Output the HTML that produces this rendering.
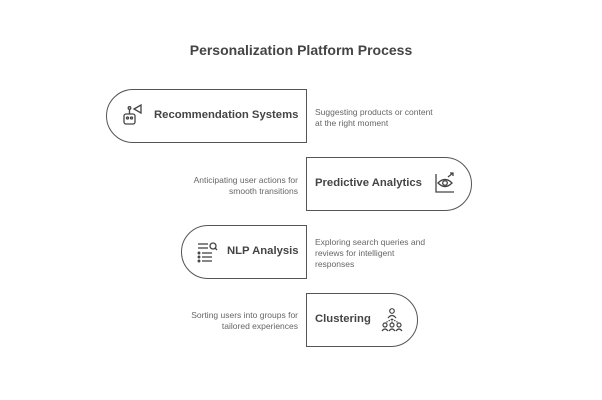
<!DOCTYPE html>
<html><head><style>
body{margin:0;width:602px;height:400px;background:#fff;position:relative;font-family:"Liberation Sans",sans-serif;overflow:hidden}
.t{position:absolute;left:0;width:602px;top:42px;text-align:center;font-size:14px;font-weight:bold;color:#444}
.b{position:absolute;box-sizing:border-box;border:1.5px solid #555;background:#fff;height:54px}
.L{border-radius:27px 0 0 27px}
.R{border-radius:0 27px 27px 0}
.lab{position:absolute;font-size:11.3px;font-weight:bold;color:#444;white-space:nowrap}
.d{position:absolute;font-size:8.5px;color:#666;line-height:11px}
.r{text-align:right}
svg{position:absolute}
</style></head><body>
<div class="t">Personalization Platform Process</div>

<div class="b L" style="left:106px;top:89px;width:201px"></div>
<svg style="left:121px;top:103px" width="24" height="24" viewBox="0 0 24 24" fill="none" stroke="#444" stroke-width="1.3"><rect x="3" y="11" width="11" height="10" rx="2"/><circle cx="6.5" cy="15" r="1"/><circle cx="10.5" cy="15" r="1"/><line x1="8.5" y1="11" x2="8.5" y2="6"/><circle cx="8.5" cy="5" r="1.3"/><path d="M13 6 L20 2 L20 10 Z"/></svg>
<div class="lab" style="left:154px;top:109px">Recommendation Systems</div>
<div class="d" style="left:315px;top:107px">Suggesting products or content<br>at the right moment</div>

<div class="b R" style="left:306px;top:157px;width:166px"></div>
<div class="lab" style="left:315px;top:177px">Predictive Analytics</div>
<svg style="left:433px;top:171px" width="24" height="24" viewBox="0 0 24 24" fill="none" stroke="#444" stroke-width="1.3"><path d="M3 3 V21 H21"/><path d="M5 12 Q12 5 19 12 Q12 19 5 12Z"/><circle cx="12" cy="12" r="2.3"/><path d="M15 6 L20 2 M17 2 H20 V5"/></svg>
<div class="d r" style="left:180px;width:118px;top:175px">Anticipating user actions for<br>smooth transitions</div>

<div class="b L" style="left:181px;top:225px;width:126px"></div>
<svg style="left:195px;top:240px" width="24" height="24" viewBox="0 0 24 24" fill="none" stroke="#444" stroke-width="1.3"><line x1="3" y1="4" x2="13" y2="4"/><line x1="3" y1="8" x2="13" y2="8"/><circle cx="18" cy="6" r="3"/><line x1="20" y1="8" x2="22" y2="10"/><circle cx="4" cy="13" r=".8"/><line x1="7" y1="13" x2="17" y2="13"/><circle cx="4" cy="17" r=".8"/><line x1="7" y1="17" x2="17" y2="17"/><circle cx="4" cy="21" r=".8"/><line x1="7" y1="21" x2="17" y2="21"/></svg>
<div class="lab" style="left:227px;top:245px">NLP Analysis</div>
<div class="d" style="left:315px;top:237px">Exploring search queries and<br>reviews for intelligent<br>responses</div>

<div class="b R" style="left:306px;top:293px;width:112px"></div>
<div class="lab" style="left:315px;top:313px">Clustering</div>
<svg style="left:380px;top:307px" width="24" height="26" viewBox="0 0 24 26" fill="none" stroke="#444" stroke-width="1.2"><circle cx="12" cy="4" r="2.3"/><path d="M8 11 Q12 6 16 11"/><path d="M12 12 L5 16 M12 12 V16 M12 12 L19 16" stroke-dasharray="1.5 1"/><circle cx="5" cy="18" r="2"/><circle cx="12" cy="18" r="2"/><circle cx="19" cy="18" r="2"/><path d="M2 24 Q5 20 8 24 M9 24 Q12 20 15 24 M16 24 Q19 20 22 24"/></svg>
<div class="d r" style="left:180px;width:118px;top:310px">Sorting users into groups for<br>tailored experiences</div>
</body></html>
